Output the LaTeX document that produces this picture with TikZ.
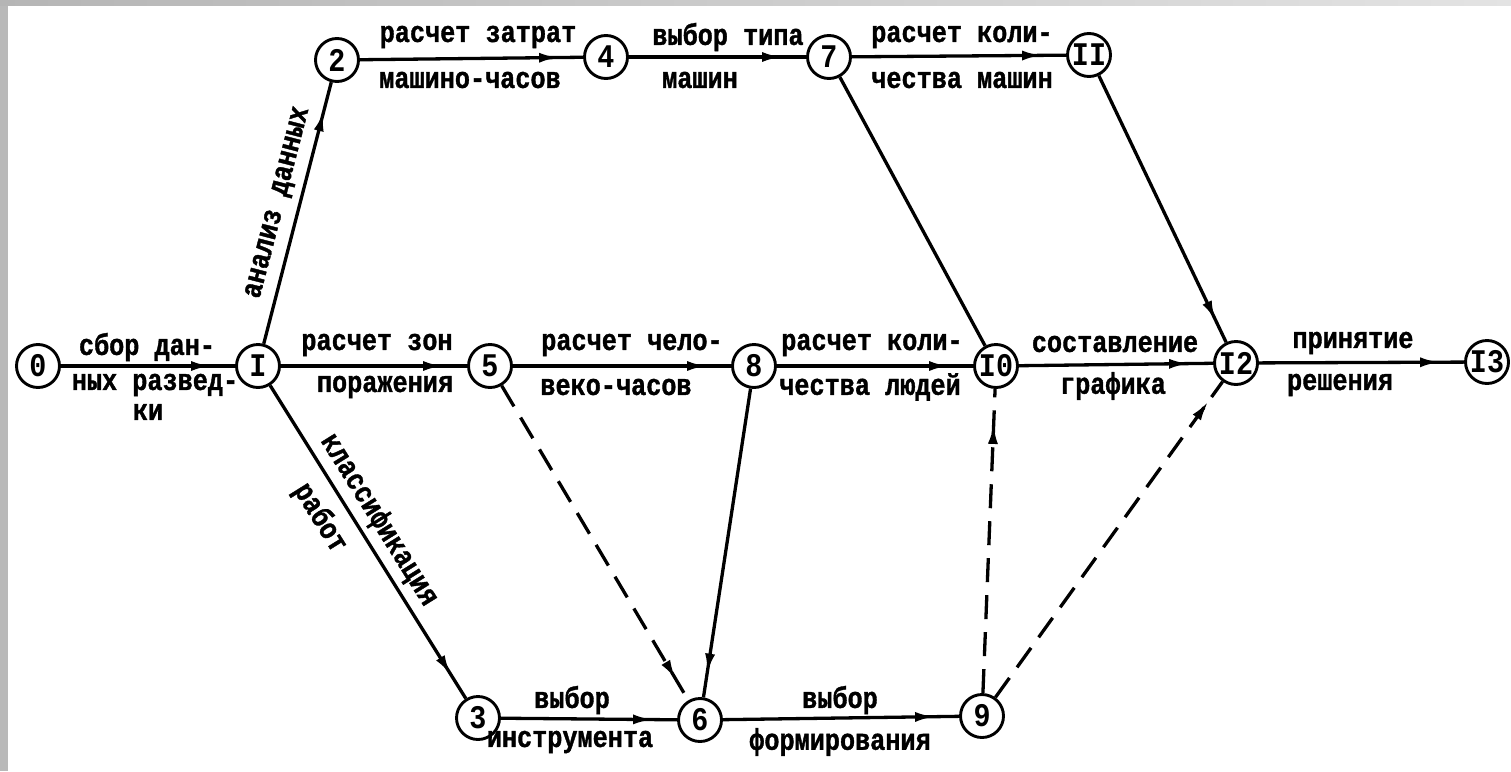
\documentclass[tikz,border=0pt]{standalone}
\usepackage{fontspec}
\setmonofont{Liberation Mono}
\newfontfamily\typefont[FakeStretch=0.84,FakeBold=1.2]{Liberation Mono}
\newfontfamily\numfont[FakeStretch=0.86]{Liberation Mono}
\usetikzlibrary{arrows.meta,decorations.markings}

\begin{document}
\begin{tikzpicture}[x=1pt,y=-1pt,
  ev/.style={circle,draw,line width=2.9pt,minimum size=43pt,inner sep=0pt,
    font=\numfont\bfseries\fontsize{33}{33}\selectfont},
  lbl/.style={font=\typefont\bfseries\fontsize{30}{32}\selectfont,inner sep=0pt},
  act/.style={line width=3.3pt,postaction={decorate},
    decoration={markings,mark=at position -#1 with {\arrow[solid]{Latex[length=20pt,width=10pt]}}}},
  act/.default=24pt,
  dum/.style={act=#1,dash pattern=on 24pt off 13pt},
  dum/.default=24pt,
]
% page and frame strips
\useasboundingbox (0,0) rectangle (1511,771);
\fill[white] (0,0) rectangle (1511,771);
\fill[gray!55] (0,0) rectangle (8,771);
\shade[left color=gray!58,right color=gray!22] (0,0) rectangle (1511,5);

% events
\node[ev] (n0)  at (38,366)   {0};
\node[ev] (n1)  at (258,366)  {I};
\node[ev] (n2)  at (337,60)   {2};
\node[ev] (n4)  at (606,57)   {4};
\node[ev] (n7)  at (829,57)   {7};
\node[ev] (n11) at (1089,55)  {II};
\node[ev] (n5)  at (490,366)  {5};
\node[ev] (n8)  at (754,366)  {8};
\node[ev] (n10) at (996,366)  {I0};
\node[ev] (n12) at (1236,363) {I2};
\node[ev] (n13) at (1487,362) {I3};
\node[ev] (n3)  at (478,718)  {3};
\node[ev] (n6)  at (700,720)  {6};
\node[ev] (n9)  at (982,716)  {9};

% activities
\draw[act] (n0) -- (n1);
\draw[act=30pt] (n1) -- (n2);
\draw[act] (n2) -- (n4);
\draw[act] (n4) -- (n7);
\draw[act] (n7) -- (n11);
\draw[line width=3.3pt] (n7) -- (n10);
\draw[act] (n11) -- (n12);
\draw[act] (n1) -- (n5);
\draw[act] (n5) -- (n8);
\draw[act] (n8) -- (n10);
\draw[act] (n10) -- (n12);
\draw[act] (n12) -- (n13);
\draw[act=28pt] (n1) -- (n3);
\draw[act] (n8) -- (n6);
\draw[act] (n3) -- (n6);
\draw[act] (n6) -- (n9);
% dummy activities
\draw[dum] (n5) -- (n6);
\draw[dum=35pt] (n9) -- (n10);
\draw[dum] (n9) -- (n12);

% activity names
\node[lbl] (t01a) at (147,347) {сбор дан-};
\node[lbl] (t01b) at (155,385) {ных развед-};
\node[lbl] (t01c) at (148,412) {ки};
\node[lbl,rotate=75.5] (t12) at (279,203) {анализ данных};
\node[lbl] (t24a) at (478,37) {расчет затрат};
\node[lbl] (t24b) at (470,80) {машино-часов};
\node[lbl] (t47a) at (728,37) {выбор типа};
\node[lbl] (t47b) at (700,80) {машин};
\node[lbl] (t711a) at (962,37) {расчет коли-};
\node[lbl] (t711b) at (962,80) {чества машин};
\node[lbl] (t15a) at (377,345) {расчет зон};
\node[lbl] (t15b) at (385,387) {поражения};
\node[lbl] (t58a) at (632,345) {расчет чело-};
\node[lbl] (t58b) at (616,387) {веко-часов};
\node[lbl] (t810a) at (872,345) {расчет коли-};
\node[lbl] (t810b) at (870,387) {чества людей};
\node[lbl] (t1012a) at (1115,344) {составление};
\node[lbl] (t1012b) at (1113,386) {графика};
\node[lbl] (t1213a) at (1353,343) {принятие};
\node[lbl] (t1213b) at (1340,385) {решения};
\node[lbl,rotate=-58] (t13a) at (379,520) {классификация};
\node[lbl,rotate=-58] (t13b) at (320,518) {работ};
\node[lbl] (t36a) at (572,700) {выбор};
\node[lbl] (t36b) at (570,742) {инструмента};
\node[lbl] (t69a) at (840,700) {выбор};
\node[lbl] (t69b) at (840,742) {формирования};
\end{tikzpicture}
\end{document}
